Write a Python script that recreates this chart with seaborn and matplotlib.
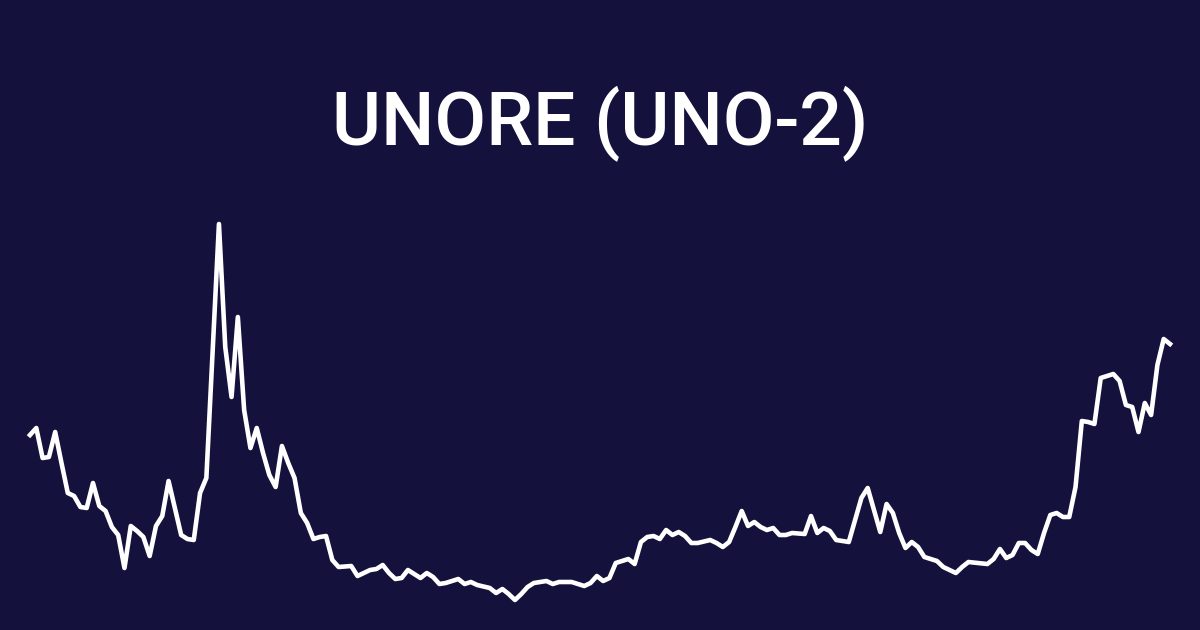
import numpy as np
import pandas as pd
import seaborn as sns
import matplotlib.pyplot as plt

# Price history (day index, price in 1/10000 USD)
days = [0, 1, 2, 3, 4, 5, 6, 7, 8, 9, 10, 11, 12, 13, 14, 15, 16, 17, 18, 19,
        20, 21, 22, 23, 24, 25, 26, 27, 28, 29, 30, 31, 32, 33, 34, 35, 36, 37, 38, 39,
        40, 41, 42, 43, 44, 45, 46, 47, 48, 49, 51, 52, 54, 55, 56, 57, 58, 59, 60, 61,
        62, 63, 64, 65, 66, 68, 69, 70, 71, 73, 74, 75, 76, 77, 78, 79, 80, 82, 83, 84,
        85, 86, 88, 89, 90, 91, 92, 93, 94, 95, 96, 97, 98, 99, 100, 101, 102, 103, 104, 105,
        106, 108, 109, 110, 111, 112, 113, 114, 115, 116, 117, 118, 119, 120, 121, 123, 124, 125, 126, 127,
        128, 130, 131, 132, 133, 134, 135, 136, 137, 138, 139, 140, 141, 142, 144, 145, 147, 148, 149, 152,
        153, 154, 155, 156, 157, 158, 159, 160, 161, 162, 163, 164, 165, 166, 167, 168, 169, 170, 171, 172,
        173, 174, 175, 176, 177, 178, 179, 180, 181]
price_raw = [195, 202, 172, 173, 198, 167, 137, 134, 123, 122, 147, 124, 119, 103, 95, 62, 104, 99, 93, 74,
             104, 114, 149, 122, 95, 91, 90, 137, 152, 279, 406, 283, 233, 313, 220, 182, 202, 177, 155, 143,
             184, 167, 152, 117, 107, 91, 93, 94, 70, 63, 64, 54, 60, 61, 65, 57, 51, 52, 60, 56,
             52, 57, 53, 46, 47, 51, 46, 48, 45, 42, 37, 41, 36, 30, 36, 43, 47, 49, 46, 48,
             48, 48, 44, 47, 54, 49, 52, 67, 69, 71, 66, 88, 93, 94, 91, 100, 95, 98, 94, 87,
             87, 90, 87, 83, 88, 103, 119, 104, 108, 103, 100, 102, 95, 95, 97, 96, 114, 97, 102, 99,
             90, 88, 110, 132, 142, 120, 98, 126, 117, 97, 82, 88, 83, 73, 69, 63, 57, 63, 68, 66,
             71, 81, 72, 75, 87, 87, 80, 76, 97, 115, 117, 113, 113, 143, 209, 208, 206, 252, 254, 256,
             249, 225, 223, 198, 227, 215, 265, 291, 286]
title = "UNORE (UNO-2)"

df = pd.DataFrame({"day": days, "price": np.array(price_raw) / 10000})

bg = "#14113c"
fig = plt.figure(figsize=(12, 6.3), dpi=100, facecolor=bg)
ax = fig.add_axes([30 / 1200, 0, 1140 / 1200, 1])
ax.set_facecolor(bg)

sns.lineplot(data=df, x="day", y="price", color="white", linewidth=3.3, ax=ax, clip_on=False)

ax.set_xlim(0, 181)
ax.set_ylim(0, 0.063)
ax.axis("off")

fig.text(0.5, 1 - 145 / 630, title, color="white", fontsize=54, fontfamily="Roboto",
         fontweight="medium", ha="center", va="baseline")

fig.savefig("out.png", dpi=100, facecolor=bg)
